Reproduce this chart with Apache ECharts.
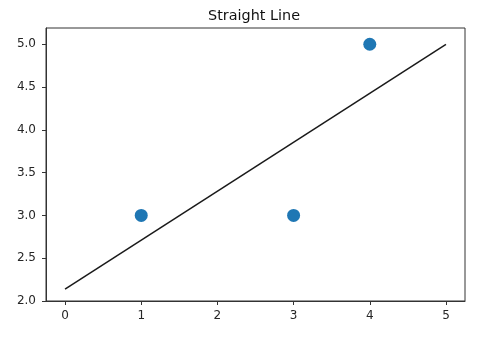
<!DOCTYPE html>
<html>
<head>
<meta charset="utf-8">
<script src="https://cdn.jsdelivr.net/npm/echarts@6/dist/echarts.min.js"></script>
<style>html,body{margin:0;padding:0;background:#fff;}#c{width:489px;height:339px;}</style>
</head>
<body>
<div id="c"></div>
<script>
var pointX = [1, 3, 4];
var pointY = [3, 3, 5];
var lineX = [0, 5];
var lineY = [2.14, 5.0];
var xTicks = [0, 1, 2, 3, 4, 5];
var yTicks = [2.0, 2.5, 3.0, 3.5, 4.0, 4.5, 5.0];
var titleText = 'Straight Line';

var chart = echarts.init(document.getElementById('c'), null, {renderer: 'canvas'});
var font = 'DejaVu Sans';
var axisColor = '#333';
chart.setOption({
  animation: false,
  backgroundColor: '#fff',
  graphic: [{
    type: 'text', x: 254, y: 9, z: 10,
    style: {text: titleText, fontFamily: font, fontSize: 14.4, fill: '#111', align: 'center', verticalAlign: 'top'}
  }],
  grid: {left: 46, right: 24, top: 28, bottom: 38, show: true, borderColor: axisColor, borderWidth: 1, backgroundColor: '#fff'},
  xAxis: {
    type: 'value', min: -0.25, max: 5.25,
    splitLine: {show: false},
    axisLine: {show: true, onZero: false, lineStyle: {color: axisColor}},
    axisTick: {show: true, length: 4, customValues: xTicks, lineStyle: {color: axisColor}},
    axisLabel: {customValues: xTicks, fontFamily: font, fontSize: 12, color: '#262626', margin: 9,
      formatter: function (v) { return String(v); }}
  },
  yAxis: {
    type: 'value', min: 2.0, max: 5.19,
    splitLine: {show: false},
    axisLine: {show: true, onZero: false, lineStyle: {color: axisColor}},
    axisTick: {show: true, length: 4, customValues: yTicks, lineStyle: {color: axisColor}},
    axisLabel: {customValues: yTicks, fontFamily: font, fontSize: 12, color: '#262626', margin: 10,
      formatter: function (v) { return v.toFixed(1); }}
  },
  series: [
    {
      type: 'line',
      data: lineX.map(function (x, i) { return [x, lineY[i]]; }),
      showSymbol: false, symbol: 'none',
      lineStyle: {color: '#1a1a1a', width: 1.5},
      z: 2
    },
    {
      type: 'scatter',
      data: pointX.map(function (x, i) { return [x, pointY[i]]; }),
      symbolSize: 13,
      itemStyle: {color: '#1f77b4', opacity: 1},
      z: 3
    }
  ]
});
</script>
</body>
</html>
